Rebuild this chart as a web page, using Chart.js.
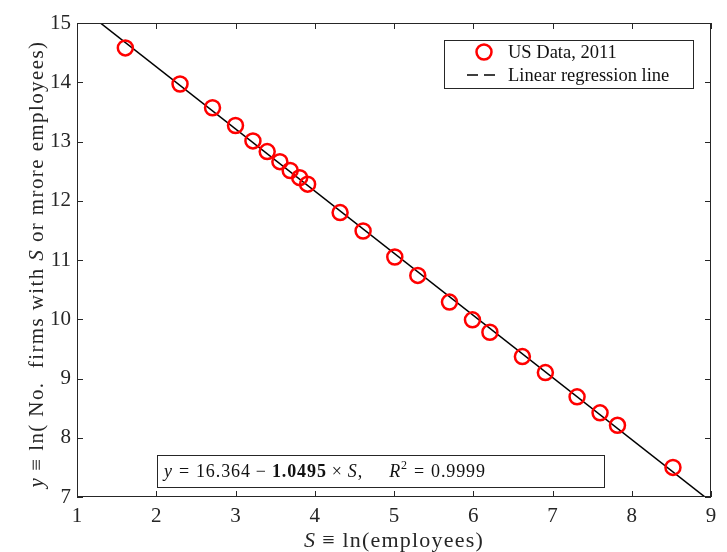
<!DOCTYPE html>
<html>
<head>
<meta charset="utf-8">
<script src="https://cdn.jsdelivr.net/npm/chart.js@4.4.0/dist/chart.umd.min.js"></script>
<style>
  html, body { margin: 0; padding: 0; background: #fff; }
  #wrap { width: 727px; height: 552px; }
</style>
</head>
<body>
<div id="wrap"><canvas id="fig"></canvas></div>
<script>
// US firm size data, 2011 (S = ln employees, y = ln number of firms)
const sizeLog = [1.61, 2.30, 2.71, 3.00, 3.22, 3.40, 3.56, 3.69, 3.81, 3.91, 4.32, 4.61,
                 5.01, 5.30, 5.70, 5.99, 6.21, 6.62, 6.91, 7.31, 7.60, 7.82, 8.52];
const firmsLog = [14.58, 13.97, 13.57, 13.27, 13.01, 12.83, 12.66, 12.51, 12.39, 12.28, 11.80, 11.49,
                  11.05, 10.74, 10.29, 9.99, 9.78, 9.37, 9.10, 8.69, 8.42, 8.21, 7.50];

// regression line end points
const lineX = [1, 9];
const lineY = [15.31, 6.92];

const xTicks = [1, 2, 3, 4, 5, 6, 7, 8, 9];
const yTicks = [7, 8, 9, 10, 11, 12, 13, 14, 15];

const serif = '"Liberation Serif", "Times New Roman", serif';

// draws a line of text made of pieces with different fonts
function drawRich(ctx, parts, x, y, align, spacing) {
  ctx.letterSpacing = (spacing || 0) + 'px';
  let total = 0;
  parts.forEach(p => { ctx.font = p.f; total += ctx.measureText(p.t).width + (p.gap || 0); });
  let cx = align === 'center' ? x - total / 2 : x;
  parts.forEach(p => {
    ctx.font = p.f;
    ctx.fillText(p.t, cx, y + (p.dy || 0));
    cx += ctx.measureText(p.t).width + (p.gap || 0);
  });
  ctx.letterSpacing = '0px';
}

const decorations = {
  id: 'decorations',
  afterDraw(chart) {
    const ctx = chart.ctx;
    const a = chart.chartArea;
    const xs = chart.scales.x, ys = chart.scales.y;
    ctx.save();

    // box and inward ticks
    ctx.strokeStyle = '#262626';
    ctx.lineWidth = 1;
    ctx.strokeRect(a.left + 0.5, a.top + 0.5, a.right - a.left - 1, a.bottom - a.top - 1);
    ctx.beginPath();
    xTicks.forEach(v => {
      const px = Math.round(xs.getPixelForValue(v)) + 0.5;
      ctx.moveTo(px, a.bottom); ctx.lineTo(px, a.bottom - 6);
      ctx.moveTo(px, a.top); ctx.lineTo(px, a.top + 6);
    });
    yTicks.forEach(v => {
      const py = Math.round(ys.getPixelForValue(v)) + 0.5;
      ctx.moveTo(a.left, py); ctx.lineTo(a.left + 6, py);
      ctx.moveTo(a.right, py); ctx.lineTo(a.right - 6, py);
    });
    ctx.stroke();

    ctx.fillStyle = '#262626';
    ctx.textBaseline = 'alphabetic';

    // x axis title
    drawRich(ctx, [
      { t: 'S', f: 'italic 22px ' + serif, gap: 6 },
      { t: '≡ ln(employees)', f: '22px ' + serif }
    ], (a.left + a.right) / 2, 547, 'center', 1.2);

    // y axis title
    ctx.save();
    ctx.translate(43, 264);
    ctx.rotate(-Math.PI / 2);
    drawRich(ctx, [
      { t: 'y', f: 'italic 21px ' + serif, gap: 6 },
      { t: '≡ ln( No.  firms with ', f: '21px ' + serif },
      { t: 'S', f: 'italic 21px ' + serif },
      { t: ' or mrore employees)', f: '21px ' + serif }
    ], 0, 0, 'center', 1.4);
    ctx.restore();

    // legend
    ctx.fillStyle = '#fff';
    ctx.fillRect(444, 40, 249, 48);
    ctx.strokeStyle = '#262626';
    ctx.strokeRect(444.5, 40.5, 249, 48);
    ctx.strokeStyle = '#ff0000';
    ctx.lineWidth = 2.5;
    ctx.beginPath();
    ctx.arc(484, 52, 7.5, 0, Math.PI * 2);
    ctx.stroke();
    ctx.strokeStyle = '#000';
    ctx.lineWidth = 1.6;
    ctx.setLineDash([11, 6]);
    ctx.beginPath();
    ctx.moveTo(467, 75); ctx.lineTo(501, 75);
    ctx.stroke();
    ctx.setLineDash([]);
    ctx.fillStyle = '#111';
    ctx.font = '18.5px ' + serif;
    ctx.fillText('US Data, 2011', 508, 58);
    ctx.fillText('Linear regression line', 508, 81);

    // regression annotation
    ctx.fillStyle = '#fff';
    ctx.fillRect(157, 455, 447, 32);
    ctx.strokeStyle = '#262626';
    ctx.lineWidth = 1;
    ctx.strokeRect(157.5, 455.5, 447, 32);
    ctx.fillStyle = '#111';
    drawRich(ctx, [
      { t: 'y', f: 'italic 18px ' + serif, gap: 6 },
      { t: '=', f: '18px ' + serif, gap: 6 },
      { t: '16.364', f: '18px ' + serif, gap: 5 },
      { t: '−', f: '18px ' + serif, gap: 5 },
      { t: '1.0495', f: 'bold 18px ' + serif, gap: 5 },
      { t: '×', f: '18px ' + serif, gap: 5 },
      { t: 'S', f: 'italic 18px ' + serif },
      { t: ',', f: '18px ' + serif, gap: 26 },
      { t: 'R', f: 'italic 18px ' + serif },
      { t: '2', f: '12px ' + serif, dy: -8, gap: 6 },
      { t: '=', f: '18px ' + serif, gap: 6 },
      { t: '0.9999', f: '18px ' + serif }
    ], 164, 477, 'left', 0.9);

    ctx.restore();
  }
};

new Chart(document.getElementById('fig'), {
  type: 'scatter',
  data: {
    datasets: [
      {
        label: 'US Data, 2011',
        data: sizeLog.map((v, i) => ({ x: v, y: firmsLog[i] })),
        pointStyle: 'circle',
        pointRadius: 7.5,
        pointHoverRadius: 7.5,
        pointBorderWidth: 2.5,
        pointBorderColor: '#ff0000',
        pointBackgroundColor: 'rgba(0,0,0,0)',
        showLine: false
      },
      {
        label: 'Linear regression line',
        data: lineX.map((v, i) => ({ x: v, y: lineY[i] })),
        showLine: true,
        borderColor: '#000',
        borderWidth: 1.5,
        pointRadius: 0
      }
    ]
  },
  options: {
    responsive: true,
    maintainAspectRatio: false,
    animation: false,
    layout: { padding: { left: 0, right: 16, top: 23, bottom: 0 } },
    plugins: {
      legend: { display: false },
      tooltip: { enabled: false }
    },
    scales: {
      x: {
        type: 'linear',
        min: 1, max: 9,
        afterFit: s => { s.height = 55; },
        afterBuildTicks: s => { s.ticks = xTicks.map(v => ({ value: v })); },
        grid: { display: false, drawTicks: false },
        border: { display: false },
        ticks: { padding: 7, color: '#262626', font: { family: serif, size: 21 } }
      },
      y: {
        type: 'linear',
        min: 7, max: 15,
        afterFit: s => { s.width = 77; },
        afterBuildTicks: s => { s.ticks = yTicks.map(v => ({ value: v })); },
        grid: { display: false, drawTicks: false },
        border: { display: false },
        ticks: { padding: 6, color: '#262626', font: { family: serif, size: 21 } }
      }
    }
  },
  plugins: [decorations]
});
</script>
</body>
</html>
